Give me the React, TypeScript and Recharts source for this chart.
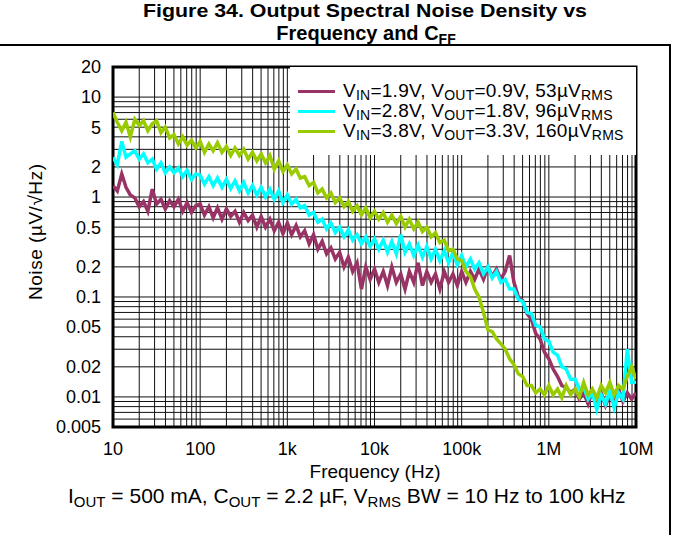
import { LineChart, Line, XAxis, YAxis, CartesianGrid, ReferenceArea, Legend } from 'recharts'

const FONT = '"Liberation Sans", Arial, Helvetica, sans-serif'

// sampling frequencies, 20 per decade (Hz)
const freqHz = [
  10, 11.2, 12.6, 14.1, 15.8, 17.8, 20, 22.4, 25.1, 28.2, 31.6, 35.5, 39.8, 44.7, 50.1, 56.2, 63.1, 70.8, 79.4, 89.1,
  100, 112, 126, 141, 158, 178, 200, 224, 251, 282, 316, 355, 398, 447, 501, 562, 631, 708, 794, 891,
  1000, 1120, 1260, 1410, 1580, 1780, 2000, 2240, 2510, 2820, 3160, 3550, 3980, 4470, 5010, 5620, 6310, 7080, 7940, 8910,
  10000, 11200, 12600, 14100, 15800, 17800, 20000, 22400, 25100, 28200, 31600, 35500, 39800, 44700, 50100, 56200, 63100, 70800, 79400, 89100,
  100e3, 112e3, 126e3, 141e3, 158e3, 178e3, 200e3, 224e3, 251e3, 282e3, 316e3, 355e3, 398e3, 447e3, 501e3, 562e3, 631e3, 708e3, 794e3, 891e3,
  1e6, 1.12e6, 1.26e6, 1.41e6, 1.58e6, 1.78e6, 2e6, 2.24e6, 2.51e6, 2.82e6, 3.16e6, 3.55e6, 3.98e6, 4.47e6, 5.01e6, 5.62e6, 6.31e6, 7.08e6, 7.94e6, 8.91e6,
  1e7,
]

// noise, uV/rtHz
const vout09 = [
  1.3, 1.15, 1.7, 1.25, 1.05, 0.98, 0.8, 0.9, 0.72, 1.2, 0.85, 0.95, 0.76, 0.92, 0.8, 0.95, 0.72, 0.88, 0.7, 0.82,
  0.85, 0.66, 0.8, 0.62, 0.78, 0.6, 0.76, 0.64, 0.72, 0.56, 0.7, 0.58, 0.66, 0.5, 0.64, 0.5, 0.6, 0.46, 0.56, 0.43,
  0.55, 0.42, 0.52, 0.4, 0.46, 0.34, 0.42, 0.3, 0.36, 0.27, 0.31, 0.24, 0.28, 0.2, 0.25, 0.18, 0.22, 0.12, 0.2, 0.15,
  0.19, 0.14, 0.18, 0.13, 0.2, 0.14, 0.17, 0.12, 0.18, 0.14, 0.22, 0.13, 0.18, 0.14, 0.17, 0.12, 0.18, 0.14, 0.17, 0.13,
  0.18, 0.14, 0.18, 0.15, 0.19, 0.15, 0.2, 0.16, 0.19, 0.15, 0.18, 0.26, 0.14, 0.1, 0.092, 0.068, 0.06, 0.043, 0.038, 0.028,
  0.024, 0.019, 0.016, 0.013, 0.0125, 0.011, 0.012, 0.0095, 0.011, 0.0085, 0.0115, 0.009, 0.011, 0.0082, 0.0105, 0.0088, 0.012, 0.009, 0.011, 0.0095,
  0.011,
]
const vout18 = [
  2.5, 2.1, 3.6, 2.5, 2.7, 2.9, 2.4, 2.7, 2.2, 2.4, 1.9, 2.2, 1.75, 2.0, 1.75, 1.95, 1.6, 1.85, 1.5, 1.7,
  1.65, 1.35, 1.6, 1.3, 1.55, 1.25, 1.5, 1.22, 1.45, 1.15, 1.4, 1.1, 1.3, 1.05, 1.25, 1.0, 1.2, 0.95, 1.15, 0.88,
  1.05, 0.85, 0.95, 0.78, 0.82, 0.66, 0.7, 0.56, 0.6, 0.48, 0.55, 0.44, 0.5, 0.4, 0.47, 0.37, 0.42, 0.34, 0.4, 0.32,
  0.38, 0.3, 0.37, 0.28, 0.36, 0.27, 0.42, 0.28, 0.34, 0.26, 0.33, 0.25, 0.32, 0.24, 0.3, 0.23, 0.29, 0.22, 0.28, 0.21,
  0.26, 0.2, 0.24, 0.19, 0.22, 0.17, 0.2, 0.155, 0.18, 0.14, 0.15, 0.12, 0.12, 0.095, 0.09, 0.07, 0.068, 0.052, 0.05, 0.038,
  0.036, 0.028, 0.026, 0.02, 0.019, 0.015, 0.015, 0.012, 0.0125, 0.0095, 0.011, 0.0075, 0.0105, 0.0085, 0.0115, 0.0078, 0.011, 0.0095, 0.03, 0.014,
  0.014,
]
const vout33 = [
  7.0, 5.6, 4.6, 5.6, 4.0, 6.0, 5.2, 5.8, 4.6, 5.4, 5.8, 4.4, 5.0, 3.9, 4.2, 3.4, 4.0, 3.3, 3.7, 3.1,
  3.6, 2.8, 3.4, 2.9, 3.5, 2.8, 3.2, 2.6, 3.1, 2.6, 3.0, 2.4, 2.8, 2.3, 2.7, 2.2, 2.6, 1.9, 2.3, 1.8,
  2.1, 1.7, 1.9, 1.55, 1.6, 1.3, 1.4, 1.1, 1.2, 0.98, 1.1, 0.88, 0.98, 0.8, 0.9, 0.72, 0.82, 0.66, 0.78, 0.62,
  0.72, 0.6, 0.7, 0.56, 0.66, 0.54, 0.64, 0.5, 0.6, 0.48, 0.56, 0.45, 0.5, 0.4, 0.44, 0.35, 0.37, 0.29, 0.3, 0.24,
  0.23, 0.18, 0.16, 0.12, 0.1, 0.07, 0.047, 0.045, 0.038, 0.034, 0.03, 0.024, 0.021, 0.017, 0.016, 0.013, 0.013, 0.011, 0.012, 0.0105,
  0.013, 0.0105, 0.012, 0.0098, 0.013, 0.0105, 0.012, 0.01, 0.014, 0.0105, 0.012, 0.0098, 0.013, 0.011, 0.014, 0.0105, 0.013, 0.012, 0.016, 0.02,
  0.015,
]

const vin = ['1.9', '2.8', '3.8']
const vout = ['0.9', '1.8', '3.3']
const vrms = ['53', '96', '160']
const seriesKeys = ['v09', 'v18', 'v33']
const seriesColors = ['#993366', '#00ffff', '#99cc00']

const xTicks = [10, 100, 1e3, 1e4, 1e5, 1e6, 1e7]
const xTickLabels = ['10', '100', '1k', '10k', '100k', '1M', '10M']
const yTicks = [0.005, 0.01, 0.02, 0.05, 0.1, 0.2, 0.5, 1, 2, 5, 10, 20]

const xGrid = [
  10, 20, 30, 40, 50, 60, 70, 80, 90,
  100, 200, 300, 400, 500, 600, 700, 800, 900,
  1e3, 2e3, 3e3, 4e3, 5e3, 6e3, 7e3, 8e3, 9e3,
  1e4, 2e4, 3e4, 4e4, 5e4, 6e4, 7e4, 8e4, 9e4,
  1e5, 2e5, 3e5, 4e5, 5e5, 6e5, 7e5, 8e5, 9e5,
  1e6, 2e6, 3e6, 4e6, 5e6, 6e6, 7e6, 8e6, 9e6, 1e7,
]
const yGrid = [
  0.006, 0.007, 0.008, 0.009,
  0.01, 0.02, 0.03, 0.04, 0.05, 0.06, 0.07, 0.08, 0.09,
  0.1, 0.2, 0.3, 0.4, 0.5, 0.6, 0.7, 0.8, 0.9,
  1, 2, 3, 4, 5, 6, 7, 8, 9, 10,
]

const sub = { fontSize: 14, verticalAlign: '-3px' } as const

function LegendBox() {
  return (
    <div style={{ width: 346, height: 88, background: '#fff', boxSizing: 'border-box', paddingTop: 14, fontFamily: FONT, fontSize: 19, color: '#000' }}>
      {vin.map((v, i) => (
        <div key={v} style={{ display: 'flex', alignItems: 'center', height: 20, paddingLeft: 8, lineHeight: 1 }}>
          <span style={{ width: 37, height: 3, background: seriesColors[i], marginRight: 8, flexShrink: 0 }} />
          <span style={{ whiteSpace: 'pre', letterSpacing: '0.25px' }}>
            V<span style={sub}>IN</span>={v}V, V<span style={sub}>OUT</span>={vout[i]}V, {vrms[i]}µV<span style={sub}>RMS</span>
          </span>
        </div>
      ))}
    </div>
  )
}

export default function App() {
  const data = freqHz.map((f, i) => ({ f, v09: vout09[i], v18: vout18[i], v33: vout33[i] }))
  const tickStyle = { fontSize: 18, fill: '#000', fontFamily: FONT }

  return (
    <div style={{ position: 'absolute', left: 0, top: 0, width: 673, height: 535, background: '#fff', fontFamily: FONT }}>
      <svg width={673} height={535} style={{ position: 'absolute', left: 0, top: 0 }} fontFamily={FONT}>
        <text x={365} y={17} textAnchor="middle" fontSize={19} fontWeight="bold" textLength={444} lengthAdjust="spacingAndGlyphs">
          Figure 34. Output Spectral Noise Density vs
        </text>
        <text x={366} y={40} textAnchor="middle" fontSize={20} fontWeight="bold">
          Frequency and C<tspan fontSize={14} dy={4}>FF</tspan>
        </text>
        <line x1={0} y1={45} x2={671} y2={45} stroke="#000" strokeWidth={2} />
        <line x1={670} y1={44} x2={670} y2={535} stroke="#000" strokeWidth={2} />
        <text transform="translate(42,232) rotate(-90)" textAnchor="middle" fontSize={19} textLength={136}>
          Noise (µV/√Hz)
        </text>
        <text x={375} y={478} textAnchor="middle" fontSize={19}>Frequency (Hz)</text>
        <text x={68} y={503} fontSize={21} style={{ whiteSpace: 'pre' }}>
          I<tspan fontSize={15} dy={4}>OUT</tspan>
          <tspan dy={-4}>{' = 500 mA, C'}</tspan>
          <tspan fontSize={15} dy={4}>OUT</tspan>
          <tspan dy={-4}>{' = 2.2 µF, V'}</tspan>
          <tspan fontSize={15} dy={4}>RMS</tspan>
          <tspan dy={-4}>{' BW = 10 Hz to 100 kHz'}</tspan>
        </text>
      </svg>
      <div style={{ position: 'absolute', left: 0, top: 0 }}>
        <LineChart width={673} height={535} data={data} margin={{ top: 67, right: 37, bottom: 68, left: 0 }}>
          <CartesianGrid horizontalValues={yGrid} verticalValues={xGrid} stroke="#111" strokeWidth={1} />
          <XAxis
            dataKey="f"
            type="number"
            scale="log"
            domain={[10, 1e7]}
            allowDataOverflow
            ticks={xTicks}
            interval={0}
            tickFormatter={(v: number) => xTickLabels[xTicks.indexOf(v)]}
            axisLine={false}
            tickLine={false}
            tickMargin={9}
            height={40}
            tick={tickStyle}
          />
          <YAxis
            type="number"
            scale="log"
            domain={[0.005, 20]}
            allowDataOverflow
            ticks={yTicks}
            interval={0}
            tickFormatter={(v: number) => String(v)}
            axisLine={false}
            tickLine={false}
            tickMargin={6}
            width={113}
            tick={tickStyle}
          />
          {seriesKeys.map((k, i) => (
            <Line
              key={k}
              dataKey={k}
              type="linear"
              stroke={seriesColors[i]}
              strokeWidth={3.5}
              dot={false}
              isAnimationActive={false}
            />
          ))}
          <ReferenceArea x1={10} x2={1e7} y1={0.005} y2={20} fill="none" stroke="#000" strokeWidth={3} ifOverflow="visible" />
          <Legend
            layout="vertical"
            align="center"
            verticalAlign="middle"
            wrapperStyle={{ left: 290, top: 67, width: 346, height: 88 }}
            content={() => <LegendBox />}
          />
        </LineChart>
      </div>
    </div>
  )
}
